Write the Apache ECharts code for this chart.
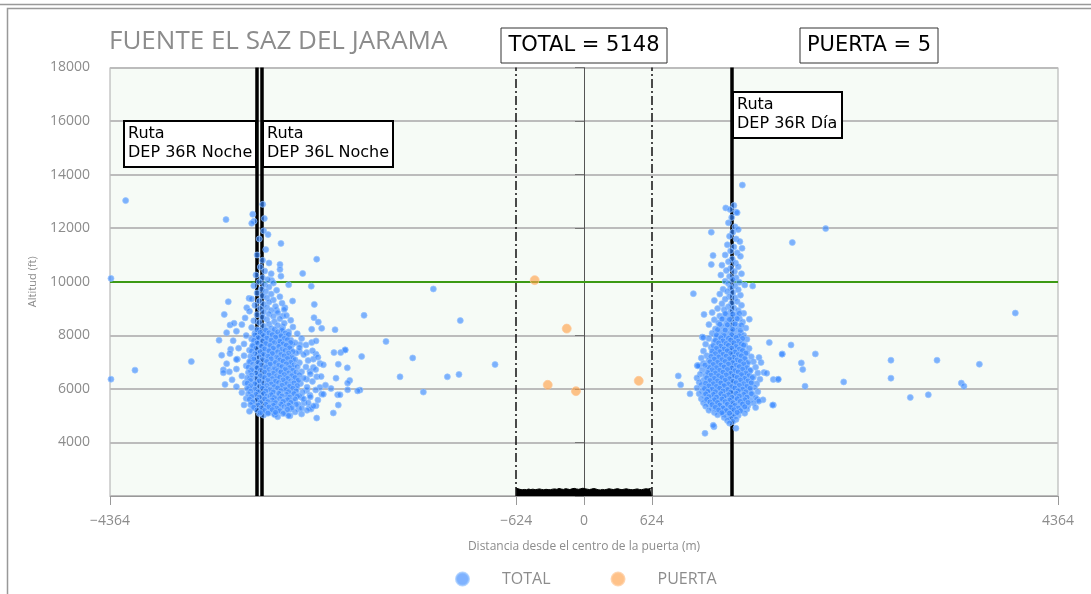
<!DOCTYPE html>
<html><head><meta charset="utf-8">
<script src="https://cdn.jsdelivr.net/npm/echarts@6/dist/echarts.min.js"></script>
<style>html,body{margin:0;padding:0;background:#fff}#c{width:1091px;height:594px}</style>
</head><body><div id="c"></div>
<script>
// ---- data ----
const xTickValues = [-4364, -624, 0, 624, 4364];
const routeLines = [-3013, -2967, 1362];
const gateEdges = [-624, 624];
const altitudeLimit = 10000;
const totalCount = 5148;
const gateCount = 5;

const puerta = [[-454,10060],[-159,8250],[-334,6150],[-74,5915],[504,6300]];

const totalFar = [[-4220,13030],[-3296,12320],[-4355,10125],[-4134,6700],[-4355,6360],[-3615,7020],
 [-2025,8745],[-2461,10843],[-2590,10310],[-2790,11430],[-2909,11760],[-2958,12890],[-3050,12520],
 [-3038,12260],[-3059,12180],[-2943,12360],[-2047,7210],[-2200,7455],[-1387,9730],[-1139,8550],
 [-1823,7770],[-1577,7155],[-1694,6450],[-1258,6450],[-1151,6540],[-819,6910],[-1479,5880],[-2062,5955],
 [1458,13610],[2225,11985],[1918,11465],[3971,8830],[1007,9555],[1172,11850],[1305,12755],[1188,10980],
 [1172,10645],[1553,9840],[1706,7730],[1906,7640],[2130,7305],[1826,7305],[2001,6970],[2014,6725],
 [2826,7070],[3250,7070],[3640,6920],[2826,6400],[2391,6260],[3474,6215],[3498,6100],[2035,6100],
 [3004,5680],[3170,5780],[1743,5395],[1743,6350],[1786,6350],[1648,5590],[1599,5590],[868,6485],
 [890,6150],[976,5815],[1114,4340],[1197,4585],[1399,4530],[1043,6870],[1089,7935],[1105,8780]];

const totalLeftScatter = [[-3275,9255],[-3312,8780],[-3105,9030],[-3084,9380],[-3259,8385],[-3222,8450],
 [-3360,7815],[-3290,8100],[-3336,7255],[-3305,6165],[-3320,6710],[-3265,6635],[-3192,7110],[-3253,7480],
 [-2799,10645],[-2799,10460],[-2790,10210],[-2875,10050],[-2719,9890],[-2511,9835],[-2483,9155],
 [-2829,8930],[-2774,8720],[-2753,9030],[-2486,8660],[-2446,8495],[-2415,8260],[-2507,8225],[-2292,8210],
 [-2774,8310],[-2683,9280],[-2799,7730],[-2688,7655],[-2615,7655],[-2507,7730],[-2467,7790],[-2621,7405],
 [-2553,7355],[-2467,7295],[-2302,7355],[-2240,7355],[-2198,7455],[-2492,7110],[-2431,6950],[-2262,6920],
 [-2179,6785],[-2523,6650],[-2492,6800],[-2553,6360],[-2461,6450],[-2283,6400],[-2157,6315],[-2176,6215],
 [-2084,5925],[-2176,5965],[-2329,6015],[-2431,6055],[-2415,5805],[-2553,5940],[-2523,5765],[-2268,5780],
 [-2246,5780],[-2599,5680],[-2578,5470],[-2529,5295],[-2513,5245],[-2467,5370],[-2262,5395],[-2308,5100],
 [-2627,5245],[-2707,4995],[-2845,5060],[-2461,4910]];

const totalLeftCore = [[-2950,11900],[-2990,11600],[-2930,11200],[-3010,11000],[-2960,10800],[-2900,10700],
 [-2980,10550],[-2940,10400],[-2880,10300],[-3020,10250],[-2960,10150],[-2910,10080],[-2990,10000],
 [-2860,9950],[-2940,9900],[-3040,9850],[-2900,9800],[-2970,9720],[-2830,9680],[-2930,9640],[-3010,9580],
 [-2880,9540],[-2960,9480],[-2800,9440],[-2920,9400],[-3060,9360],[-2860,9320],[-2990,9280],[-2900,9240],
 [-2780,9200],[-2950,9160],[-3030,9120],[-2840,9080],[-2920,9040],[-2980,9000],[-2760,8960],[-2880,8930],
 [-3080,8900],[-2950,8870],[-2820,8840],[-2900,8800],[-3010,8770],[-2740,8740],[-2860,8710],[-2960,8680],
 [-3120,8650],[-2800,8620],[-2920,8590],[-2700,8560],[-3040,8540],[-2850,8510],[-2990,8480],[-2760,8450],
 [-2900,8420],[-3150,8400],[-2820,8370],[-2950,8340],[-2680,8310],[-3060,8290],[-2880,8260],[-2780,8230],
 [-2990,8200],[-2920,8170],[-3200,8150],[-2720,8130],[-2850,8100],[-3030,8080],[-2640,8060],[-2960,8040],
 [-2800,8010],[-3110,7990],[-2900,7970],[-2740,7950],[-3000,7920],[-2830,7900],[-2600,7880],[-3060,7860],
 [-2940,7840],[-2700,7820],[-3230,7800],[-2870,7780],[-2780,7760],[-3000,7740],[-2660,7720],[-2920,7700],
 [-3130,7680],[-2810,7660],[-2560,7640],[-2980,7620],[-2740,7600],[-3050,7580],[-2880,7560],[-2620,7540],
 [-3180,7520],[-2950,7500],[-2700,7480],[-2840,7460],[-3080,7440],[-2500,7420],[-2910,7400],[-2780,7380],
 [-3000,7360],[-2650,7340],[-3260,7320],[-2860,7300],[-2580,7280],[-2960,7260],[-3130,7240],[-2730,7220],
 [-2890,7200],[-2450,7180],[-3040,7160],[-2810,7140],[-2680,7120],[-3200,7100],[-2930,7080],[-2540,7060],
 [-2760,7040],[-3070,7020],[-2860,7000],[-2620,6980],[-2990,6960],[-3290,6940],[-2710,6920],[-2400,6900],
 [-2900,6880],[-3110,6860],[-2800,6840],[-2560,6820],[-3010,6800],[-2680,6780],[-2950,6760],[-3200,6740],
 [-2470,6720],[-2850,6700],[-2740,6680],[-3060,6660],[-2600,6640],[-2920,6620],[-3320,6600],[-2790,6580],
 [-2520,6560],[-3000,6540],[-2670,6520],[-2880,6500],[-3150,6480],[-2420,6460],[-2950,6440],[-2740,6420],
 [-2580,6400],[-3070,6380],[-2830,6360],[-3240,6340],[-2650,6320],[-2990,6300],[-2500,6280],[-2900,6260],
 [-2760,6240],[-3120,6220],[-2610,6200],[-2850,6180],[-3030,6160],[-2380,6140],[-2700,6120],[-2960,6100],
 [-3200,6080],[-2550,6060],[-2800,6040],[-3080,6020],[-2650,6000],[-2920,5980],[-2470,5960],[-2740,5940],
 [-3010,5920],[-2870,5900],[-2590,5880],[-3150,5860],[-2690,5840],[-2950,5820],[-2400,5800],[-2800,5780],
 [-3050,5760],[-2620,5740],[-2880,5720],[-2520,5700],[-2980,5680],[-2730,5660],[-3110,5640],[-2580,5620],
 [-2840,5600],[-2450,5580],[-2930,5560],[-2680,5540],[-3060,5520],[-2770,5500],[-2540,5480],[-2990,5460],
 [-2860,5440],[-2630,5420],[-3130,5400],[-2720,5380],[-2490,5360],[-2920,5340],[-2800,5320],[-3040,5300],
 [-2600,5280],[-2880,5260],[-2700,5240],[-2960,5220],[-2550,5200],[-2820,5180],[-3080,5160],[-2660,5140],
 [-2900,5120],[-2750,5100],[-2990,5080],[-2600,5060],[-2850,5040],[-2950,5020],[-2720,5000],[-2820,4960]];

const totalLeftDense = [
 [-3010,8210],[-2930,8190],[-2850,8220],[-2780,8180],
 [-2980,8110],[-2900,8090],[-2820,8120],[-2750,8080],
 [-3030,8010],[-2950,7990],[-2870,8020],[-2790,7980],[-2720,8030],
 [-3000,7910],[-2920,7890],[-2840,7930],[-2760,7880],
 [-3040,7810],[-2960,7790],[-2880,7820],[-2800,7780],[-2730,7830],
 [-3010,7710],[-2930,7690],[-2850,7720],[-2770,7680],[-2700,7730],
 [-3050,7610],[-2970,7590],[-2890,7620],[-2810,7580],[-2740,7630],
 [-3020,7510],[-2940,7490],[-2860,7520],[-2780,7480],[-2710,7530],
 [-3060,7410],[-2980,7390],[-2900,7420],[-2820,7380],[-2750,7430],[-2680,7390],
 [-3030,7310],[-2950,7290],[-2870,7320],[-2790,7280],[-2720,7330],
 [-3070,7210],[-2990,7190],[-2910,7220],[-2830,7180],[-2760,7230],[-2690,7190],
 [-3040,7110],[-2960,7090],[-2880,7120],[-2800,7080],[-2730,7130],[-2660,7090],
 [-3080,7010],[-3000,6990],[-2920,7020],[-2840,6980],[-2770,7030],[-2700,6990],
 [-3050,6910],[-2970,6890],[-2890,6920],[-2810,6880],[-2740,6930],[-2670,6890],
 [-3090,6810],[-3010,6790],[-2930,6820],[-2850,6780],[-2780,6830],[-2710,6790],[-2640,6820],
 [-3060,6710],[-2980,6690],[-2900,6720],[-2820,6680],[-2750,6730],[-2680,6690],
 [-3090,6610],[-3020,6590],[-2940,6620],[-2860,6580],[-2790,6630],[-2720,6590],[-2650,6620],
 [-3060,6510],[-2980,6490],[-2900,6520],[-2830,6480],[-2760,6530],[-2690,6490],[-2620,6520],
 [-3100,6410],[-3020,6390],[-2940,6420],[-2870,6380],[-2800,6430],[-2730,6390],[-2660,6420],
 [-3070,6310],[-2990,6290],[-2910,6320],[-2840,6280],[-2770,6330],[-2700,6290],[-2630,6320],
 [-3100,6210],[-3030,6190],[-2950,6220],[-2880,6180],[-2810,6230],[-2740,6190],[-2670,6220],
 [-3070,6110],[-2990,6090],[-2920,6120],[-2850,6080],[-2780,6130],[-2710,6090],[-2640,6120],
 [-3100,6010],[-3030,5990],[-2960,6020],[-2890,5980],[-2820,6030],[-2750,5990],[-2680,6020],
 [-3070,5910],[-3000,5890],[-2930,5920],[-2860,5880],[-2790,5930],[-2720,5890],[-2650,5920],
 [-3090,5810],[-3020,5790],[-2950,5820],[-2880,5780],[-2810,5830],[-2740,5790],[-2670,5820],
 [-3060,5710],[-2990,5690],[-2920,5720],[-2850,5680],[-2780,5730],[-2710,5690],[-2640,5720],
 [-3080,5610],[-3010,5590],[-2940,5620],[-2870,5580],[-2800,5630],[-2730,5590],[-2660,5620],
 [-3050,5510],[-2980,5490],[-2910,5520],[-2840,5480],[-2770,5530],[-2700,5490],
 [-3070,5410],[-3000,5390],[-2930,5420],[-2860,5380],[-2790,5430],[-2720,5390],[-2650,5420],
 [-3040,5310],[-2970,5290],[-2900,5320],[-2830,5280],[-2760,5330],[-2690,5290],
 [-3010,5210],[-2940,5190],[-2870,5220],[-2800,5180],[-2730,5230],
 [-2980,5110],[-2910,5090],[-2840,5120],[-2770,5080]];

const totalRightCore = [[1380,12850],[1345,12700],[1400,12600],[1410,12580],[1360,12400],[1330,12200],
 [1390,12050],[1420,11950],[1370,11850],[1340,11700],[1400,11600],[1435,11500],[1320,11380],[1380,11300],
 [1455,11250],[1350,11150],[1410,11080],[1300,11000],[1440,10950],[1365,10850],[1330,10750],[1395,10700],
 [1270,10620],[1420,10560],[1350,10500],[1310,10420],[1385,10380],[1450,10300],[1260,10250],[1340,10200],
 [1400,10150],[1370,10080],[1300,10020],[1430,9980],[1330,9930],[1480,9880],[1390,9850],[1350,9780],
 [1280,9720],[1420,9700],[1320,9640],[1370,9600],[1250,9540],[1440,9500],[1340,9450],[1390,9400],
 [1300,9350],[1200,9300],[1410,9260],[1360,9200],[1270,9180],[1450,9120],[1330,9070],[1380,9020],
 [1230,9000],[1290,8960],[1420,8930],[1350,8880],[1180,8850],[1470,8820],[1310,8780],[1400,8750],
 [1250,8720],[1360,8680],[1430,8640],[1280,8620],[1200,8580],[1330,8560],[1390,8520],[1460,8500],
 [1240,8460],[1310,8430],[1150,8400],[1370,8390],[1420,8350],[1270,8320],[1340,8300],[1490,8270],
 [1210,8240],[1300,8210],[1400,8180],[1360,8150],[1250,8120],[1440,8100],[1180,8080],[1330,8050],
 [1280,8020],[1470,8000],[1390,7980],[1220,7960],[1350,7940],[1420,7910],[1150,7880],[1300,7870],
 [1500,7850],[1250,7830],[1380,7800],[1450,7780],[1200,7760],[1330,7740],[1280,7710],[1410,7690],
 [1120,7670],[1360,7650],[1480,7630],[1240,7610],[1300,7590],[1430,7570],[1170,7550],[1390,7530],
 [1520,7510],[1270,7490],[1340,7470],[1210,7450],[1460,7430],[1100,7410],[1320,7400],[1400,7380],
 [1250,7360],[1500,7340],[1180,7320],[1370,7300],[1290,7280],[1440,7260],[1130,7240],[1230,7220],
 [1540,7200],[1340,7190],[1410,7170],[1080,7150],[1270,7140],[1480,7120],[1200,7100],[1360,7090],
 [1150,7070],[1310,7050],[1430,7030],[1560,7010],[1240,7000],[1390,6980],[1100,6960],[1330,6950],
 [1500,6930],[1180,6910],[1270,6900],[1450,6880],[1060,6860],[1360,6850],[1220,6830],[1580,6810],
 [1300,6800],[1410,6780],[1140,6760],[1480,6750],[1250,6730],[1350,6710],[1090,6700],[1530,6680],
 [1200,6670],[1390,6650],[1290,6640],[1440,6620],[1160,6600],[1600,6590],[1330,6580],[1240,6560],
 [1070,6550],[1500,6540],[1380,6520],[1120,6500],[1280,6490],[1460,6470],[1210,6460],[1560,6440],
 [1340,6430],[1040,6410],[1420,6400],[1170,6390],[1300,6370],[1620,6360],[1250,6350],[1490,6330],
 [1100,6320],[1370,6300],[1200,6290],[1540,6270],[1320,6260],[1060,6250],[1440,6230],[1150,6220],
 [1270,6210],[1590,6190],[1400,6180],[1230,6160],[1080,6150],[1510,6140],[1350,6120],[1180,6110],
 [1290,6100],[1470,6080],[1120,6070],[1570,6060],[1380,6040],[1040,6030],[1250,6020],[1430,6000],
 [1160,5990],[1330,5980],[1530,5960],[1210,5950],[1090,5930],[1410,5920],[1300,5910],[1600,5890],
 [1140,5880],[1480,5860],[1260,5850],[1360,5830],[1060,5820],[1550,5800],[1200,5790],[1420,5780],
 [1320,5760],[1110,5750],[1500,5730],[1240,5720],[1380,5700],[1170,5690],[1580,5670],[1290,5660],
 [1450,5640],[1080,5630],[1350,5620],[1220,5600],[1530,5590],[1130,5580],[1400,5560],[1270,5550],
 [1610,5540],[1190,5520],[1470,5510],[1330,5500],[1100,5480],[1560,5470],[1240,5460],[1420,5440],
 [1150,5430],[1370,5410],[1300,5400],[1510,5380],[1210,5370],[1120,5350],[1450,5340],[1260,5330],
 [1350,5310],[1580,5300],[1180,5290],[1400,5270],[1290,5260],[1500,5240],[1230,5230],[1360,5210],
 [1150,5200],[1440,5190],[1310,5170],[1260,5150],[1400,5130],[1200,5120],[1340,5100],[1480,5090],
 [1280,5070],[1370,5050],[1230,5030],[1420,5010],[1320,4990],[1380,4960],[1290,4930],[1350,4900],
 [1400,4860],[1320,4820],[1370,4780],[1340,4720]];

const totalRightDense = [
 [1300,8810],[1370,8790],[1430,8820],
 [1270,8610],[1340,8590],[1410,8620],
 [1250,8410],[1320,8390],[1390,8420],[1450,8380],
 [1230,8210],[1300,8190],[1370,8220],[1440,8180],
 [1220,8010],[1290,7990],[1360,8020],[1430,7980],
 [1260,7910],[1330,7890],[1400,7920],[1460,7880],
 [1210,7810],[1280,7790],[1350,7820],[1420,7780],
 [1240,7710],[1310,7690],[1380,7720],[1450,7680],
 [1190,7610],[1260,7590],[1330,7620],[1400,7580],[1470,7630],
 [1220,7510],[1290,7490],[1360,7520],[1430,7480],
 [1180,7410],[1250,7390],[1320,7420],[1390,7380],[1460,7430],
 [1210,7310],[1280,7290],[1350,7320],[1420,7280],[1490,7330],
 [1170,7210],[1240,7190],[1310,7220],[1380,7180],[1450,7230],
 [1200,7110],[1270,7090],[1340,7120],[1410,7080],[1480,7130],
 [1160,7010],[1230,6990],[1300,7020],[1370,6980],[1440,7030],[1510,6990],
 [1190,6910],[1260,6890],[1330,6920],[1400,6880],[1470,6930],
 [1150,6810],[1220,6790],[1290,6820],[1360,6780],[1430,6830],[1500,6790],
 [1180,6710],[1250,6690],[1320,6720],[1390,6680],[1460,6730],[1530,6690],
 [1140,6610],[1210,6590],[1280,6620],[1350,6580],[1420,6630],[1490,6590],
 [1170,6510],[1240,6490],[1310,6520],[1380,6480],[1450,6530],[1520,6490],
 [1130,6410],[1200,6390],[1270,6420],[1340,6380],[1410,6430],[1480,6390],[1550,6420],
 [1160,6310],[1230,6290],[1300,6320],[1370,6280],[1440,6330],[1510,6290],
 [1120,6210],[1190,6190],[1260,6220],[1330,6180],[1400,6230],[1470,6190],[1540,6220],
 [1150,6110],[1220,6090],[1290,6120],[1360,6080],[1430,6130],[1500,6090],
 [1110,6010],[1180,5990],[1250,6020],[1320,5980],[1390,6030],[1460,5990],[1530,6020],
 [1140,5910],[1210,5890],[1280,5920],[1350,5880],[1420,5930],[1490,5890],
 [1120,5810],[1190,5790],[1260,5820],[1330,5780],[1400,5830],[1470,5790],[1540,5820],
 [1150,5710],[1220,5690],[1290,5720],[1360,5680],[1430,5730],[1500,5690],
 [1130,5610],[1200,5590],[1270,5620],[1340,5580],[1410,5630],[1480,5590],
 [1160,5510],[1230,5490],[1300,5520],[1370,5480],[1440,5530],[1510,5490],
 [1180,5410],[1250,5390],[1320,5420],[1390,5380],[1460,5430],
 [1210,5310],[1280,5290],[1350,5320],[1420,5280],[1480,5330],
 [1240,5210],[1310,5190],[1380,5220],[1440,5180],
 [1270,5110],[1340,5090],[1410,5120]];

const totalRightScatter = [[1823,7295],[1611,7170],[1630,6985],[1657,6610],[1682,6585],[1789,6360],
 [1737,5395],[1522,8600],[1047,6860],[1114,6885],[1098,7915],[1190,4640]];

const gateBand = [[-624,2290],[-610,2240],[-590,2250],[-570,2230],[-550,2245],[-530,2235],[-510,2260],
 [-490,2240],[-470,2255],[-450,2235],[-430,2250],[-410,2265],[-390,2245],[-370,2230],[-350,2250],
 [-330,2240],[-310,2235],[-290,2255],[-270,2265],[-250,2250],[-230,2280],[-210,2260],[-190,2245],
 [-170,2275],[-150,2260],[-130,2240],[-110,2270],[-90,2285],[-70,2265],[-50,2250],[-30,2270],[-10,2290],
 [10,2270],[30,2255],[50,2240],[70,2260],[90,2280],[110,2260],[130,2235],[150,2225],[170,2245],[190,2230],
 [210,2250],[230,2270],[250,2255],[270,2240],[290,2260],[310,2275],[330,2250],[350,2235],[370,2255],
 [390,2270],[410,2250],[430,2240],[450,2230],[470,2250],[490,2265],[510,2245],[530,2235],[550,2255],
 [570,2270],[590,2260],[610,2280],[624,2300]];

const totalData = totalFar.concat(totalLeftScatter, totalLeftCore, totalLeftDense,
  totalRightCore, totalRightDense, totalRightScatter);

// ---- chart ----
const chart = echarts.init(document.getElementById('c'), null, {renderer: 'canvas'});
const minus = v => String(v).replace('-', '\u2212');
const boxText = (x, y, w, h, txt, size, lw, centered) => ([
  {type: 'rect', shape: {x: x, y: y, width: w, height: h}, z: 100,
   style: {fill: '#fff', stroke: lw > 1 ? '#000' : '#333', lineWidth: lw}},
  centered ?
  {type: 'text', x: x + w / 2, y: y + h / 2, z: 101,
   style: {text: txt, font: size + 'px "DejaVu Sans"', fill: '#000', align: 'center', verticalAlign: 'middle'}} :
  {type: 'text', x: x + 4, y: y + 3, z: 101,
   style: {text: txt, font: size + 'px "DejaVu Sans"', fill: '#000', lineHeight: 19}}
]);

chart.setOption({
  backgroundColor: '#fff',
  animation: false,
  title: {text: 'FUENTE EL SAZ DEL JARAMA', left: 104, top: 24,
    textStyle: {fontFamily: 'Open Sans', fontSize: 26, fontWeight: 'normal', color: '#8c8c8c'}},
  legend: {left: 450, top: 566, itemWidth: 13, itemHeight: 13, itemGap: 60, icon: 'circle',
    data: ['TOTAL', 'PUERTA'],
    textStyle: {fontFamily: 'Open Sans', fontSize: 16, color: '#8c8c8c', padding: [0, 0, 0, 28]}},
  grid: {left: 110, right: 33, top: 67.5, bottom: 98, show: true, backgroundColor: '#f6fbf6',
    borderColor: '#aaa', borderWidth: 1},
  xAxis: {type: 'value', min: -4364, max: 4364,
    name: 'Distancia desde el centro de la puerta (m)', nameLocation: 'middle', nameGap: 45,
    nameTextStyle: {fontFamily: 'Open Sans', fontSize: 12, color: '#8c8c8c'},
    axisLine: {show: true, lineStyle: {color: '#999'}},
    axisTick: {show: true, customValues: xTickValues, length: 9, lineStyle: {color: '#999'}},
    axisLabel: {customValues: xTickValues, formatter: minus, margin: 18,
      fontFamily: 'Open Sans', fontSize: 14, color: '#8c8c8c'},
    splitLine: {show: false}},
  yAxis: {type: 'value', min: 2000, max: 18000, interval: 2000,
    name: 'Altitud (ft)', nameLocation: 'middle', nameGap: 72,
    nameTextStyle: {fontFamily: 'Open Sans', fontSize: 11, color: '#8c8c8c'},
    axisLine: {show: true, lineStyle: {color: '#999'}},
    axisTick: {show: true, length: 9, lineStyle: {color: '#777'}},
    axisLabel: {formatter: v => v === 2000 ? '' : String(v), margin: 20,
      fontFamily: 'Open Sans', fontSize: 14, color: '#8c8c8c'},
    splitLine: {show: true, lineStyle: {color: '#bcbcbc', width: 2}}},
  series: [
    {type: 'line', name: 'band', data: gateBand, symbol: 'none', z: 3,
     lineStyle: {color: '#000', width: 1}, areaStyle: {color: '#000', opacity: 1, origin: 'start'},
     markLine: {symbol: 'none', silent: true, label: {show: false}, z: 1,
       data: [
         {xAxis: 0, lineStyle: {color: '#555', width: 1, type: 'solid'}},
         {xAxis: gateEdges[0], lineStyle: {color: '#111', width: 1.5, type: [9, 3, 2, 3]}},
         {xAxis: gateEdges[1], lineStyle: {color: '#111', width: 1.5, type: [9, 3, 2, 3]}},
         {yAxis: altitudeLimit, lineStyle: {color: '#3c9a14', width: 2, type: 'solid'}},
         {xAxis: routeLines[0], lineStyle: {color: '#000', width: 3.5, type: 'solid'}},
         {xAxis: routeLines[1], lineStyle: {color: '#000', width: 3.5, type: 'solid'}},
         {xAxis: routeLines[2], lineStyle: {color: '#000', width: 3.5, type: 'solid'}}
       ]}},
    {type: 'scatter', name: 'TOTAL', data: totalData, symbolSize: 6, z: 5,
     itemStyle: {color: 'rgba(55,135,255,0.8)', borderColor: 'rgba(150,195,255,0.9)', borderWidth: 1}},
    {type: 'scatter', name: 'PUERTA', data: puerta, symbolSize: 9, z: 6,
     itemStyle: {color: 'rgba(255,160,70,0.8)', borderColor: 'rgba(255,200,150,0.9)', borderWidth: 1}}
  ],
  color: ['#4a90ff', '#ffa040'],
  graphic: [
    {type: 'line', shape: {x1: 0, y1: 4.5, x2: 1091, y2: 4.5}, style: {stroke: '#999', lineWidth: 1.5}},
    {type: 'rect', shape: {x: 7.5, y: 8.5, width: 1100, height: 600}, style: {fill: 'none', stroke: '#999', lineWidth: 1.5}},
    ...boxText(501, 28, 166, 35, 'TOTAL = ' + totalCount, 21, 1, true),
    ...boxText(800, 28, 138, 35, 'PUERTA = ' + gateCount, 21, 1, true),
    ...boxText(124, 121, 132, 46, 'Ruta\nDEP 36R Noche', 16, 2, false),
    ...boxText(263, 121, 130, 46, 'Ruta\nDEP 36L Noche', 16, 2, false),
    ...boxText(733, 92, 109, 46, 'Ruta\nDEP 36R Día', 16, 2, false)
  ]
});
</script></body></html>
